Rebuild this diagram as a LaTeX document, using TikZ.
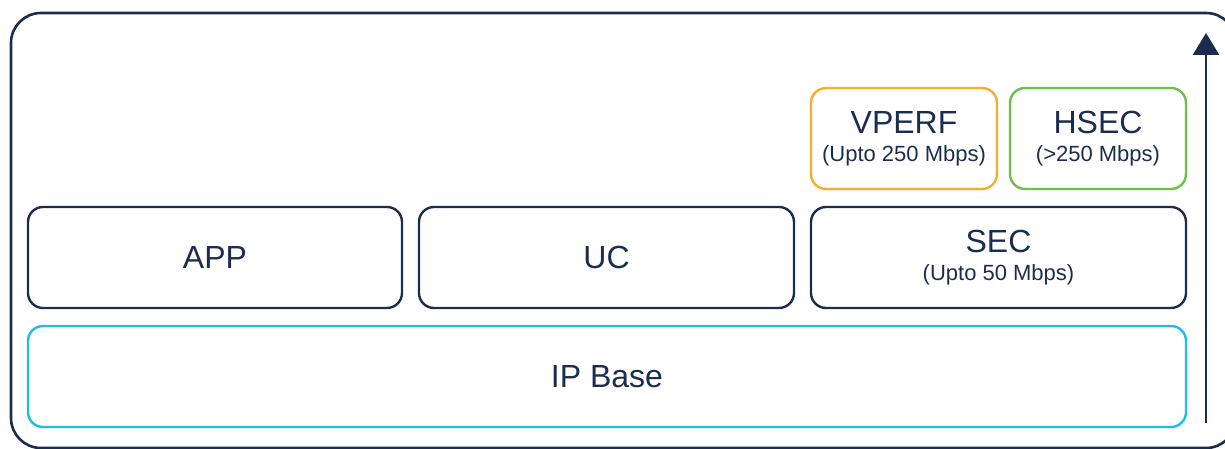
\documentclass[tikz,border=0pt]{standalone}
\usepackage{fontspec}
\setmainfont{Liberation Sans}
\usepackage{xcolor}
\usetikzlibrary{arrows.meta}
\definecolor{navy}{HTML}{1B2D4F}
\definecolor{lorange}{HTML}{FBAB2C}
\definecolor{lgreen}{HTML}{6CC04A}
\definecolor{lcyan}{HTML}{1DBDEB}
\tikzset{
  tier/.style={draw=navy,line width=2.4pt,rounded corners=15pt,inner sep=0pt,
    minimum height=101pt,text=navy,align=center,
    font=\fontsize{32}{28}\selectfont},
}
\newcommand{\rate}[1]{{\fontsize{22}{28}\selectfont #1}}

\begin{document}
\begin{tikzpicture}[x=1pt,y=1pt]
\clip (0,0) rectangle (1225,449);

%frame
\draw [color=navy,line width=2.6pt,rounded corners=30pt] (11,1) rectangle (1236,436);

%base
\node [tier,draw=lcyan,minimum width=1158pt] (ipbase) at (607,72.5) {IP Base};

%middle row
\node [tier,minimum width=374pt] (app) at (215,191.5) {APP};
\node [tier,minimum width=375pt] (uc) at (606.5,191.5) {UC};
\node [tier,minimum width=375pt] (sec) at (998.5,191.5) {SEC\\\rate{(Upto 50 Mbps)}};

%top row
\node [tier,draw=lorange,minimum width=186pt] (vperf) at (904,310.5) {VPERF\\\rate{(Upto 250 Mbps)}};
\node [tier,draw=lgreen,minimum width=176pt] (hsec) at (1098,310.5) {HSEC\\\rate{(>250 Mbps)}};

%arrow
\coordinate (low) at (1206,26);
\coordinate (high) at (1206,416);
\draw [color=navy,line width=2.8pt,-{Triangle[length=22pt,width=26pt]}] (low) -- (high);
\end{tikzpicture}
\end{document}
